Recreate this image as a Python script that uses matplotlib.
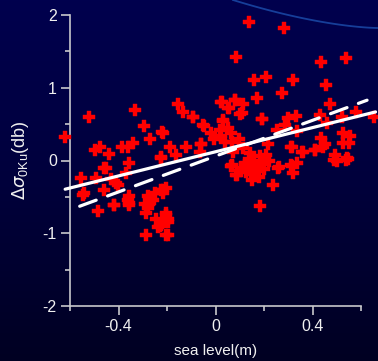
import numpy as np
import matplotlib
matplotlib.use("Agg")
import matplotlib.pyplot as plt
from matplotlib.colors import LinearSegmentedColormap

plt.rcParams['font.family'] = ['Liberation Sans', 'DejaVu Sans']

# sea level anomaly (m) and backscatter anomaly (dB)
sea_level = [
    0.139, 0.283, 0.084, 0.433, 0.540, 0.159, 0.208, 0.320, 0.457, 0.273,
    0.171, 0.023, 0.079, 0.113, 0.055, 0.103, 0.472, -0.094, -0.048, 0.192,
    0.300, 0.334, 0.430, 0.520, 0.580, 0.655, 0.030, 0.050, -0.018, 0.023,
    0.065, -0.060, 0.255, 0.313, 0.360, 0.410, 0.437, 0.450, 0.527, 0.555,
    0.527, 0.493, 0.548, 0.065, 0.085, 0.140, 0.160, 0.220, 0.258, 0.313,
    0.320, 0.260, 0.317, 0.335, 0.239, 0.490, 0.540, 0.066, 0.087, 0.150,
    0.150, 0.183, 0.130, 0.170, 0.120, -0.203, -0.217, -0.203, -0.196, -0.203,
    -0.230, -0.548, -0.486, -0.417, -0.360, -0.355, -0.458, -0.403, -0.279, -0.258,
    -0.286, -0.203, -0.196, -0.238, -0.286, -0.196, -0.217, -0.248, -0.290, -0.620,
    -0.520, -0.330, -0.293, -0.272, -0.221, -0.496, -0.476, -0.438, -0.385, -0.359,
    -0.341, -0.355, -0.450, -0.226, -0.458, -0.555, -0.493, -0.541, -0.430, -0.410,
    -0.368, -0.417, -0.355, -0.355, -0.279, -0.272, -0.224, -0.224, -0.245, -0.155,
    -0.134, -0.093, 0.025, 0.052, 0.080, 0.108, 0.190, -0.051, 0.031, 0.018,
    -0.217, -0.189, -0.058, -0.065, -0.161, -0.224, 0.066, 0.073, 0.115, 0.142,
    0.155, 0.183, 0.066, 0.287, 0.460, 0.335, 0.218, 0.315, 0.356, 0.410,
    0.445, 0.550, 0.542, 0.500, 0.200, 0.180, 0.105, 0.125, 0.175, 0.210,
    -0.120, -0.005, 0.040, 0.095, 0.135, 0.165, 0.145, 0.190,
]
sigma0_ku = [
    1.90, 1.82, 1.42, 1.35, 1.41, 1.11, 1.15, 1.11, 1.04, 0.93,
    0.86, 0.80, 0.83, 0.78, 0.72, 0.64, 0.78, 0.60, 0.48, 0.57,
    0.58, 0.61, 0.63, 0.60, 0.67, 0.60, 0.54, 0.45, 0.38, 0.33,
    0.38, 0.22, 0.42, 0.19, 0.11, 0.14, 0.31, 0.22, 0.38, 0.34,
    0.24, 0.08, 0.02, -0.08, -0.20, 0.00, -0.03, 0.00, -0.10, -0.06,
    -0.17, -0.09, -0.08, -0.04, -0.33, 0.01, 0.01, -0.07, -0.20, -0.06,
    -0.27, -0.63, -0.12, -0.15, -0.04, -0.38, -0.45, -0.75, -0.84, -1.02,
    -0.90, -0.47, -0.70, -0.61, -0.54, -0.61, -0.40, -0.33, -0.49, -0.54,
    -0.72, -0.72, -0.81, -0.91, -1.02, -1.02, -0.40, -0.44, -0.60, 0.32,
    0.60, 0.70, 0.48, 0.29, 0.39, 0.15, 0.19, 0.09, 0.18, 0.19,
    0.24, -0.04, -0.10, 0.03, -0.10, -0.24, -0.24, -0.45, -0.26, -0.31,
    -0.17, -0.61, -0.49, -0.58, -0.65, -0.58, -0.40, -0.88, -0.80, 0.78,
    0.67, 0.60, 0.80, 0.72, 0.83, 0.65, 0.57, 0.49, 0.56, 0.42,
    0.38, 0.19, 0.22, 0.12, 0.08, 0.05, 0.26, 0.12, 0.17, 0.10,
    -0.01, 0.06, -0.06, 0.49, 0.51, 0.40, 0.22, 0.19, 0.12, 0.15,
    0.19, 0.24, 0.03, -0.01, -0.12, -0.22, -0.10, -0.16, -0.10, 0.08,
    0.18, 0.30, 0.25, 0.30, -0.08, -0.13, -0.19, -0.05,
]

# linear fits: (intercept, slope, x range)
fit_solid = (0.12, 0.83, (-0.62, 0.66))
fit_dashed = (0.06, 1.23, (-0.56, 0.625))

x_major = [-0.4, 0.0, 0.4]
x_major_labels = ['-0.4', '0', '0.4']
x_minor = [-0.6, -0.2, 0.2, 0.6]
y_major = [-2, -1, 0, 1, 2]
y_major_labels = ['-2', '-1', '0', '1', '2']
y_minor = [-1.5, -0.5, 0.5, 1.5]

W, H = 378, 361
fig = plt.figure(figsize=(W / 100, H / 100), dpi=100)

# vertical navy gradient behind everything
bg = fig.add_axes([0, 0, 1, 1], zorder=-10)
cmap = LinearSegmentedColormap.from_list('bg', ['#00004e', '#00003c', '#000022'])
grad = np.linspace(0, 1, 256).reshape(-1, 1)
bg.imshow(grad, aspect='auto', cmap=cmap, extent=[0, 1, 0, 1], origin='upper')
bg.set_xlim(0, 1)
bg.set_ylim(0, 1)
# faint decorative arc in the upper right
t = np.linspace(0, 1, 100)
arc_x = 233 / W + t * (1 - 233 / W)
arc_y = 1 - (28 / H) * (1 - (1 - t) ** 1.6)
bg.plot(arc_x, arc_y, color='#1a4aa8', lw=1.3, alpha=0.85)
bg.axis('off')

ax = fig.add_axes([70 / W, 1 - 306 / H, 291 / W, 291 / H])
ax.patch.set_alpha(0)
ax.set_xlim(-0.6, 0.6)
ax.set_ylim(-2, 2)

ax.plot(sea_level, sigma0_ku, linestyle='none', marker='P', ms=9,
        color='#ff0000', mec='#ff0000', mew=0.3, clip_on=False, zorder=3)

for (b, m, (x0, x1)), ls in [(fit_solid, '-'), (fit_dashed, (0, (5.5, 3.8)))]:
    xs = np.array([x0, x1])
    ax.plot(xs, b + m * xs, color='white', lw=2.3, linestyle=ls,
            solid_capstyle='round', dash_capstyle='round', clip_on=False, zorder=4)

axis_col = '#c8c8cc'
for side in ['top', 'right']:
    ax.spines[side].set_visible(False)
for side in ['left', 'bottom']:
    ax.spines[side].set_color(axis_col)
    ax.spines[side].set_linewidth(1.2)

ax.set_xticks(x_major)
ax.set_xticklabels(x_major_labels)
ax.set_xticks(x_minor, minor=True)
ax.set_yticks(y_major)
ax.set_yticklabels(y_major_labels)
ax.set_yticks(y_minor, minor=True)
ax.tick_params(which='major', length=6.5, width=1.2, color=axis_col,
               labelcolor='#f0f0f0', labelsize=11.5, pad=3)
ax.tick_params(which='minor', length=3.5, width=1.2, color=axis_col)

ax.set_xlabel('sea level(m)', color='#f0f0f0', fontsize=11, labelpad=7)
ax.set_ylabel(r'$\Delta\sigma_{\mathregular{0Ku}}$(db)', color='#f0f0f0',
              fontsize=13, labelpad=8)

fig.savefig('out.png', dpi=100, facecolor='#00003c')
